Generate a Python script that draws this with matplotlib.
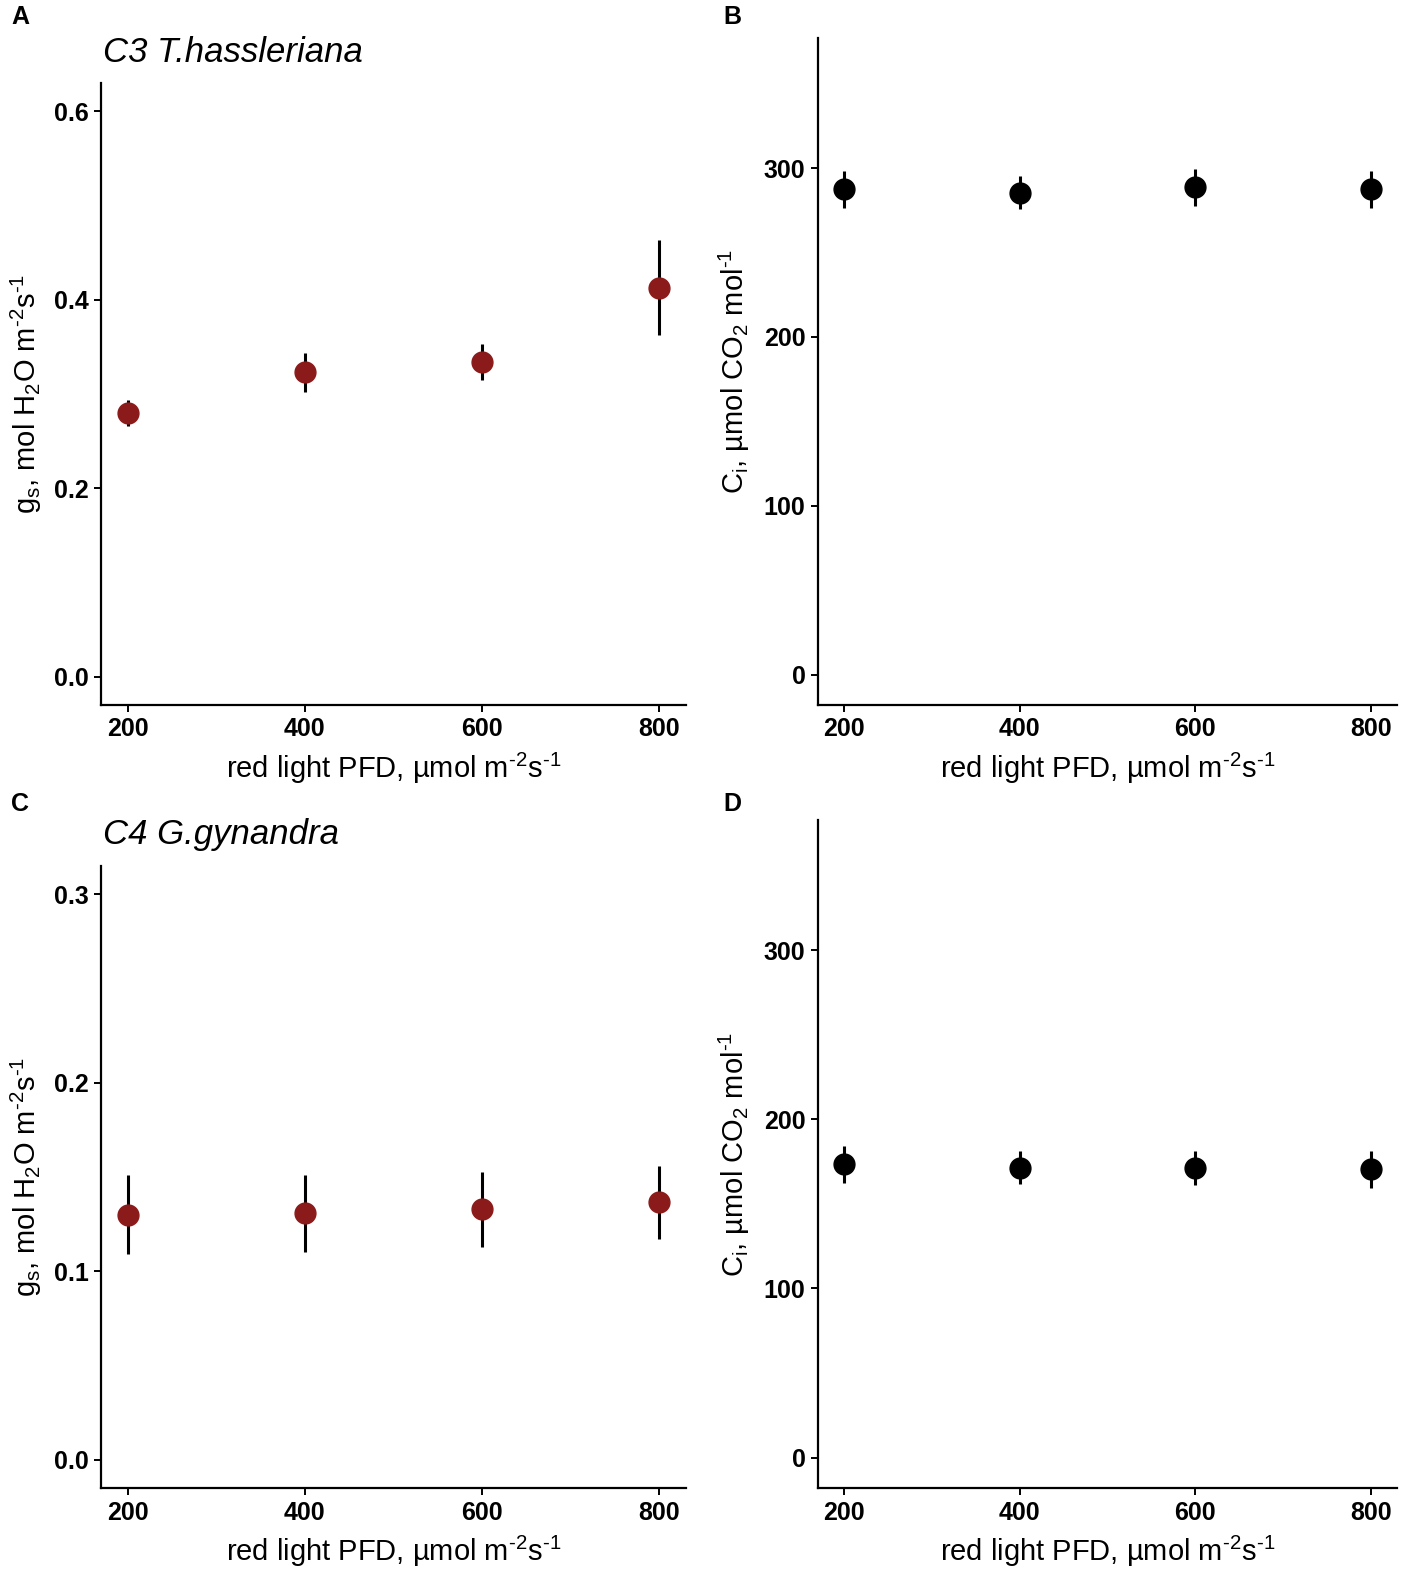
import matplotlib
matplotlib.use("Agg")
import matplotlib.pyplot as plt

plt.rcParams['font.family'] = ['Liberation Sans', 'DejaVu Sans']
plt.rcParams['mathtext.fontset'] = 'custom'
plt.rcParams['mathtext.rm'] = 'Liberation Sans'
plt.rcParams['mathtext.it'] = 'Liberation Sans:italic'
plt.rcParams['mathtext.bf'] = 'Liberation Sans:bold'

# red light PFD levels
pfd = [200, 400, 600, 800]

# C3 T.hassleriana
gs_c3 = [0.280, 0.323, 0.334, 0.413]
gs_c3_err = [0.014, 0.021, 0.019, 0.050]
ci_c3 = [287.5, 285.5, 288.5, 287.5]
ci_c3_err = [11, 9.5, 11, 11]

# C4 G.gynandra
gs_c4 = [0.130, 0.1307, 0.1328, 0.1365]
gs_c4_err = [0.021, 0.0205, 0.020, 0.0196]
ci_c4 = [173.5, 171.5, 171, 170.5]
ci_c4_err = [11, 9.5, 10, 11]

xticks = [200, 400, 600, 800]
gs_c3_ticks = [0.0, 0.2, 0.4, 0.6]
gs_c4_ticks = [0.0, 0.1, 0.2, 0.3]
ci_ticks = [0, 100, 200, 300]

red = '#8b1a1a'
W, H = 1417, 1587

fig = plt.figure(figsize=(W / 100, H / 100), dpi=100)


def box(l, t, r, b):
    return [l / W, 1 - b / H, (r - l) / W, (b - t) / H]


axA = fig.add_axes(box(101, 83, 686, 705))
axB = fig.add_axes(box(818, 38, 1397, 705))
axC = fig.add_axes(box(101, 866, 686, 1488))
axD = fig.add_axes(box(818, 820, 1397, 1488))

xlab = r'red light PFD, µmol m$^{\text{-2}}$s$^{\text{-1}}$'
gslab = r'g$_\mathrm{s}$, mol H$_2$O m$^{\text{-2}}$s$^{\text{-1}}$'
cilab = r'C$_\mathrm{i}$, µmol CO$_2$ mol$^{\text{-1}}$'

panels = [
    (axA, gs_c3, gs_c3_err, red, gs_c3_ticks, (-0.03, 0.63), gslab, -0.097, '{:.1f}'),
    (axB, ci_c3, ci_c3_err, 'black', ci_ticks, (-18, 377), cilab, -0.114, '{:.0f}'),
    (axC, gs_c4, gs_c4_err, red, gs_c4_ticks, (-0.015, 0.315), gslab, -0.097, '{:.1f}'),
    (axD, ci_c4, ci_c4_err, 'black', ci_ticks, (-18, 377), cilab, -0.114, '{:.0f}'),
]

for ax, y, err, col, yt, ylim, ylab, lx, fmt in panels:
    ax.errorbar(pfd, y, yerr=err, fmt='none', ecolor='black', elinewidth=2.2, capsize=0, zorder=2)
    ax.plot(pfd, y, 'o', color=col, ms=15, mec=col, zorder=3)
    ax.set_xlim(170, 830)
    ax.set_ylim(*ylim)
    ax.set_xticks(xticks)
    ax.set_xticklabels([str(v) for v in xticks])
    ax.set_yticks(yt)
    ax.set_yticklabels([fmt.format(v) for v in yt])
    for s in ['top', 'right']:
        ax.spines[s].set_visible(False)
    for s in ['left', 'bottom']:
        ax.spines[s].set_linewidth(1.6)
    ax.tick_params(width=1.4, length=5, labelsize=18, pad=4)
    for lab in ax.get_xticklabels() + ax.get_yticklabels():
        lab.set_fontweight('bold')
    ax.set_xlabel(xlab, fontsize=21, labelpad=7)
    ax.set_ylabel(ylab, fontsize=21)
    ax.yaxis.set_label_coords(lx, 0.5)

fig.text(103 / W, 1 - 62 / H, 'C3 T.hassleriana', fontsize=25, style='italic', va='baseline')
fig.text(103 / W, 1 - 844 / H, 'C4 G.gynandra', fontsize=25, style='italic', va='baseline')

for lab, x, y in [('A', 11, 24), ('B', 723, 24), ('C', 11, 811), ('D', 723, 811)]:
    fig.text(x / W, 1 - y / H, lab, fontsize=18, fontweight='bold', va='baseline')

fig.savefig('out.png', dpi=100)
